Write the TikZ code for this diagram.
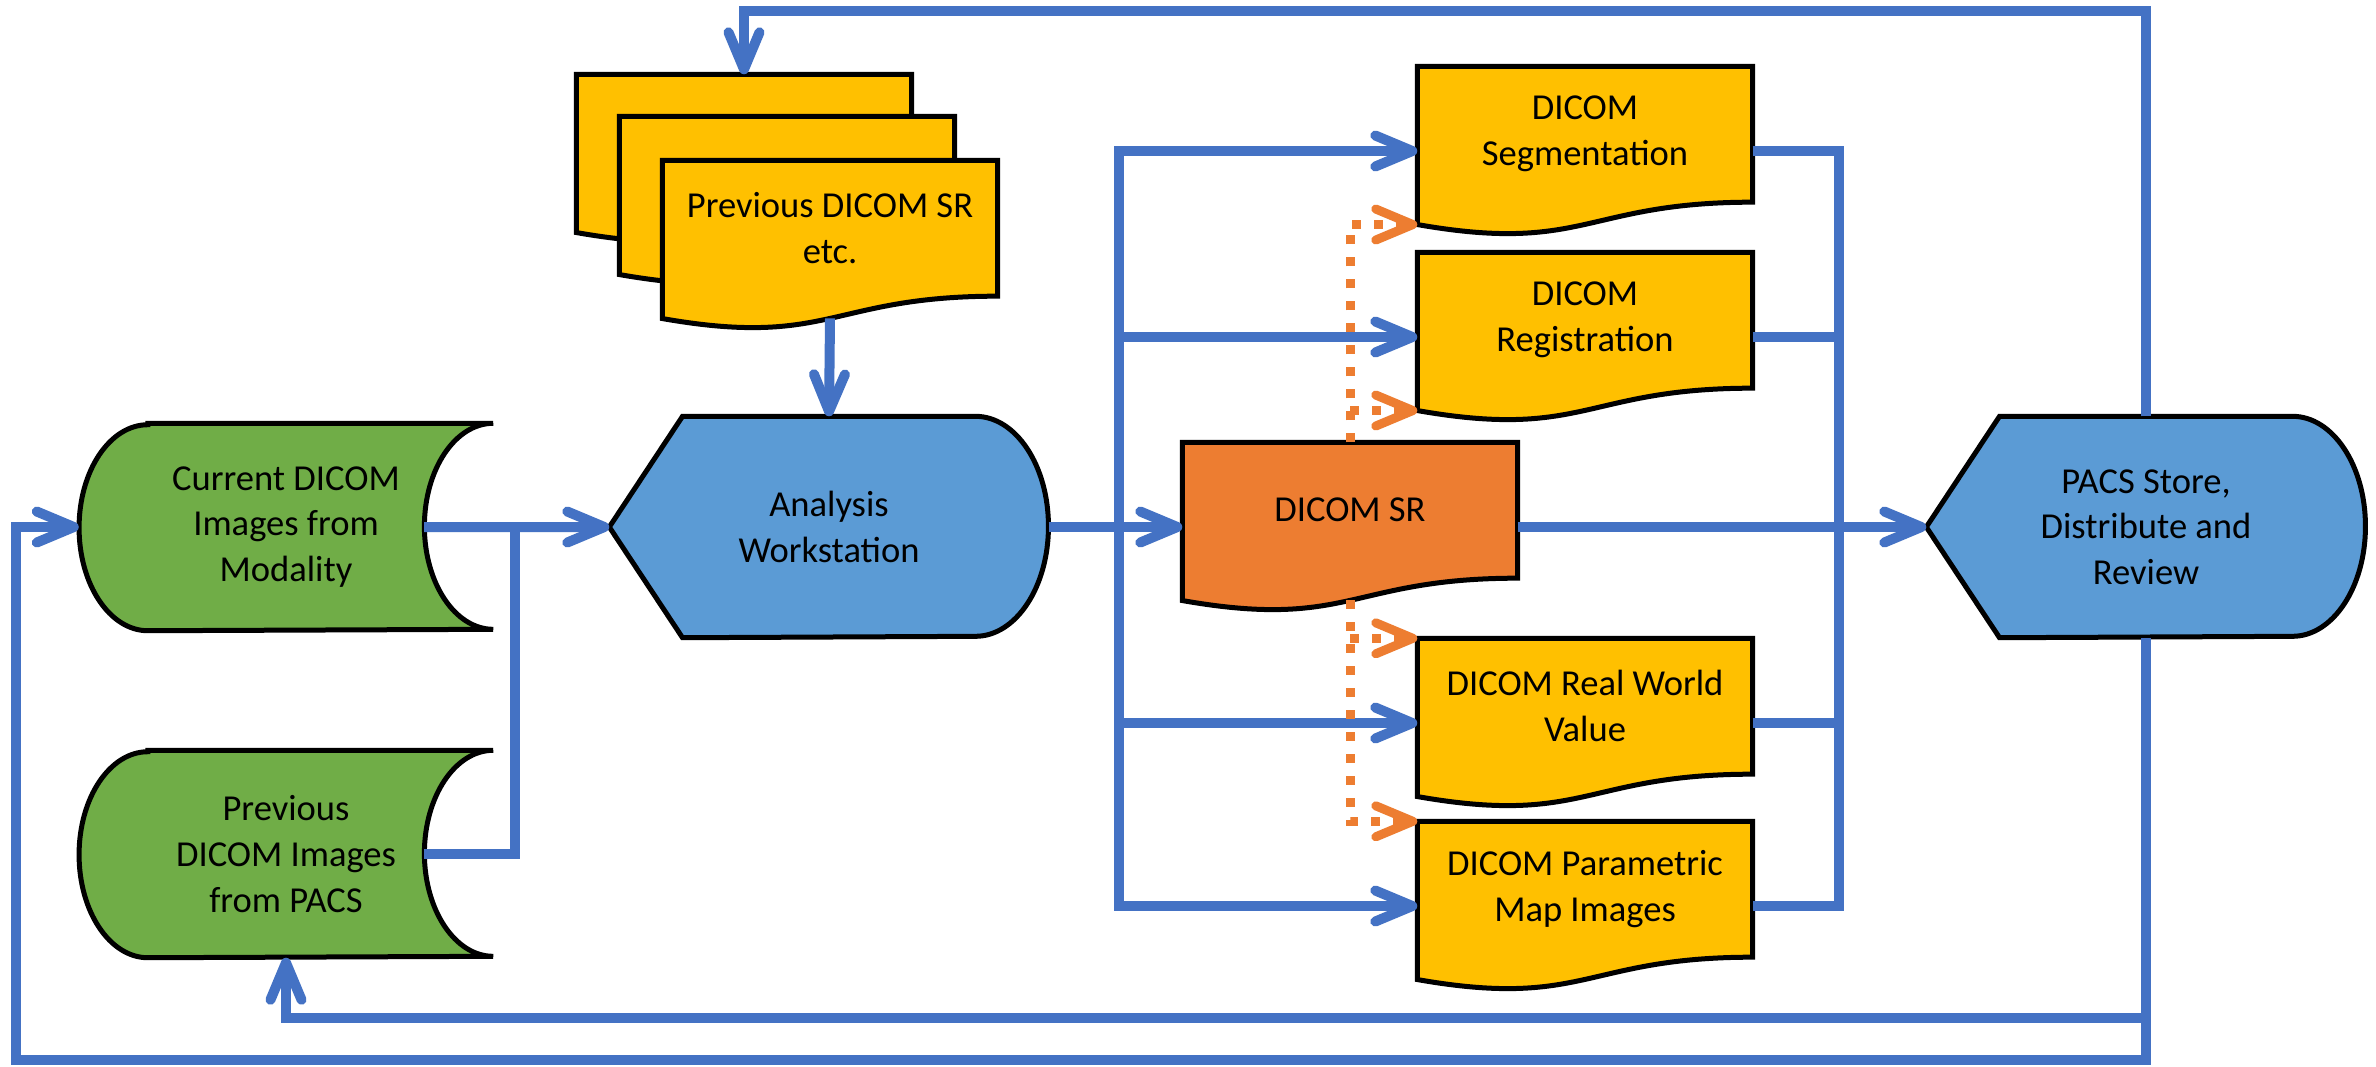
\documentclass[tikz,border=0pt]{standalone}
\usepackage{fontspec}
\setmainfont{Carlito}
\usetikzlibrary{arrows.meta, calc, backgrounds}

\definecolor{flowblue}{HTML}{4472C4}
\definecolor{boxgreen}{HTML}{70AD47}
\definecolor{boxblue}{HTML}{5B9BD5}
\definecolor{boxyellow}{HTML}{FFC000}
\definecolor{boxorange}{HTML}{ED7D31}

% outlines drawn from the anchors of a plain rectangle node
\newcommand{\docpath}[1]{(#1.north west) -- (#1.north east) -- ($(#1.north east)!0.802!(#1.south east)$)
  .. controls ($(#1.north)!0.802!(#1.south)$) and ($(#1.north)!1.108!(#1.south)$) .. ($(#1.north west)!0.934!(#1.south west)$) -- cycle}
\newcommand{\storepath}[1]{($(#1.north west)!1/6!(#1.north east)$) -- (#1.north east)
  arc[start angle=90, end angle=270, x radius=6.88mm, y radius=10.3mm] -- ($(#1.south west)!1/6!(#1.south east)$)
  arc[start angle=270, end angle=90, x radius=6.88mm, y radius=10.3mm] -- cycle}
\newcommand{\screenpath}[1]{(#1.west) -- ($(#1.north west)!1/6!(#1.north east)$) -- ($(#1.north west)!5/6!(#1.north east)$)
  arc[start angle=90, end angle=-90, x radius=7.3mm, y radius=11mm] -- ($(#1.south west)!1/6!(#1.south east)$) -- cycle}

\begin{document}
\begin{tikzpicture}[x=0.1mm, y=-0.1mm,
    every node/.style={font=\fontsize{10.4}{13}\selectfont},
    docbox/.style={minimum width=33.4mm, minimum height=16.8mm, inner sep=0pt},
    doctext/.style={align=center, yshift=1.7mm},
    storebox/.style={minimum width=41.3mm, minimum height=20.6mm, inner sep=0pt, align=center},
    screenbox/.style={minimum width=43.8mm, minimum height=22mm, inner sep=0pt, align=center},
    outline/.style={draw=black, line width=0.5mm},
    flow/.style={draw=flowblue, line width=1mm},
    arrow/.style={flow, ->},
    dots/.style={draw=boxorange, line width=0.9mm, dash pattern=on 0.9mm off 1.3mm, ->},
    >={Straight Barb[length=3.7mm, width=3.1mm, round]}]
  \useasboundingbox (0,0) rectangle (2376,1066);

  % sources
  \node [storebox] (cur) at (286, 527) {Current DICOM\\Images from\\Modality};
  \node [storebox] (prev) at (286, 854) {Previous\\DICOM Images\\from PACS};
  \node [docbox] (back) at (744, 159) {};
  \node [docbox] (mid) at (787, 201) {};
  \node [docbox, label={[doctext]center:Previous DICOM SR\\etc.}] (front) at (830, 245) {};
  \node [screenbox] (ana) at (829, 527) {Analysis\\Workstation};

  % results
  \node [docbox, label={[doctext]center:DICOM\\Segmentation}] (seg) at (1585, 151) {};
  \node [docbox, label={[doctext]center:DICOM\\Registration}] (reg) at (1585, 337) {};
  \node [docbox, label={[doctext]center:DICOM SR}] (sr) at (1350, 527) {};
  \node [docbox, label={[doctext]center:DICOM Real World\\Value}] (rwv) at (1585, 723) {};
  \node [docbox, label={[doctext]center:DICOM Parametric\\Map Images}] (pm) at (1585, 906) {};
  \node [screenbox] (pacs) at (2146, 527) {PACS Store,\\Distribute and\\Review};

  \coordinate (topline) at (0, 11);
  \coordinate (lowline) at (0, 1018);
  \coordinate (loopcorner) at (16, 1060);
  \coordinate (merge) at (515, 527);
  \coordinate (inbus) at (1119, 0);
  \coordinate (outbus) at (1839, 0);
  \coordinate (curport) at ($(cur.west)!5/6!(cur.east)$);
  \coordinate (prevport) at ($(prev.west)!5/6!(prev.east)$);
  \coordinate (frontfoot) at ($(front.north)!0.933!(front.south)$);
  \coordinate (srfoot) at ($(sr.north)!0.933!(sr.south)$);
  \coordinate (segfoot) at ($(seg.north west)!0.934!(seg.south west)$);
  \coordinate (regfoot) at ($(reg.north west)!0.934!(reg.south west)$);

  \begin{scope}[on background layer]
    \fill[white] (0,0) rectangle (2376,1066);
    \path[outline, fill=boxgreen] \storepath{cur};
    \path[outline, fill=boxgreen] \storepath{prev};
    \path[outline, fill=boxyellow] \docpath{back};
    \path[outline, fill=boxyellow] \docpath{mid};
    \path[outline, fill=boxyellow] \docpath{front};
    \path[outline, fill=boxblue] \screenpath{ana};
    \path[outline, fill=boxyellow] \docpath{seg};
    \path[outline, fill=boxyellow] \docpath{reg};
    \path[outline, fill=boxorange] \docpath{sr};
    \path[outline, fill=boxyellow] \docpath{rwv};
    \path[outline, fill=boxyellow] \docpath{pm};
    \path[outline, fill=boxblue] \screenpath{pacs};
  \end{scope}

  % into the workstation
  \draw[arrow] (curport) -- (ana.west);
  \draw[flow] (prevport) -| (merge);
  \draw[arrow] (frontfoot) -- (ana.north);
  \draw[arrow] (ana.east) -- (sr.west);

  % fan out and back in
  \draw[flow, <->] (seg.west) -| (inbus |- pm.west) -- (pm.west);
  \draw[arrow] (inbus |- reg.west) -- (reg.west);
  \draw[arrow] (inbus |- rwv.west) -- (rwv.west);
  \draw[flow] (seg.east) -| (outbus |- pm.east) -- (pm.east);
  \draw[flow] (reg.east) -- (outbus |- reg.east);
  \draw[flow] (rwv.east) -- (outbus |- rwv.east);
  \draw[arrow] (sr.east) -- (pacs.west);

  % references from the SR
  \draw[dots] (sr.north) |- (segfoot);
  \draw[dots] (sr.north |- regfoot) -- (regfoot);
  \draw[dots] (srfoot) |- (pm.north west);
  \draw[dots] (srfoot |- rwv.north west) -- (rwv.north west);

  % back from PACS
  \draw[arrow] (pacs.north) -- (pacs.north |- topline) -| (back.north);
  \draw[arrow] (pacs.south) |- (loopcorner) |- (cur.west);
  \draw[arrow] (pacs.south |- lowline) -| (prev.south);
\end{tikzpicture}
\end{document}
